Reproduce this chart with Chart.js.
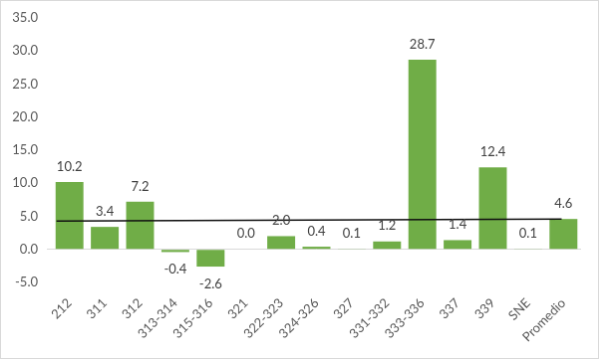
<!DOCTYPE html>
<html lang="es">
<head>
<meta charset="UTF-8">
<title>Variación por subsector</title>
<script src="https://cdn.jsdelivr.net/npm/chart.js"></script>
<style>
  body { margin: 0; background: #fff; }
  #chart { display: block; border: 1px solid #d9d9d9; }
</style>
</head>
<body>
<canvas id="chart" width="599" height="359"></canvas>
<script>
const categories = ['212', '311', '312', '313-314', '315-316', '321', '322-323', '324-326', '327', '331-332', '333-336', '337', '339', 'SNE', 'Promedio'];
const values = [10.2, 3.4, 7.2, -0.4, -2.6, 0.0, 2.0, 0.4, 0.1, 1.2, 28.7, 1.4, 12.4, 0.1, 4.6];
// trend line end points (category index, value)
const trendX = [-0.37, 13.95];
const trendY = [4.3, 4.6];

const barColor = '#70ad47';
const labelFont = { family: 'Lato', size: 13 };

// value labels over / under each bar
const valueLabels = {
  id: 'valueLabels',
  afterDatasetsDraw(chart) {
    const ctx = chart.ctx;
    const meta = chart.getDatasetMeta(1);
    ctx.save();
    ctx.font = `${labelFont.size}px ${labelFont.family}`;
    ctx.fillStyle = '#404040';
    ctx.textAlign = 'center';
    ctx.textBaseline = 'middle';
    meta.data.forEach((bar, i) => {
      const v = values[i];
      const y = v < 0 ? bar.y + 17.5 : bar.y - 15.5;
      ctx.fillText(v.toFixed(1), bar.x, y);
    });
    ctx.restore();
  }
};

const zeroOnly = ctx => ctx.tick && ctx.tick.value === 0 ? '#d9d9d9' : 'rgba(0,0,0,0)';

new Chart(document.getElementById('chart').getContext('2d'), {
  type: 'bar',
  data: {
    labels: categories,
    datasets: [
      {
        type: 'line',
        data: trendX.map((x, i) => ({ x, y: trendY[i] })),
        xAxisID: 'x2',
        borderColor: '#111',
        borderWidth: 1.5,
        pointRadius: 0,
        fill: false
      },
      {
        type: 'bar',
        data: values,
        xAxisID: 'x',
        backgroundColor: barColor,
        grouped: false,
        barPercentage: 1,
        categoryPercentage: 0.79
      }
    ]
  },
  options: {
    responsive: false,
    animation: false,
    layout: { padding: { top: 17, right: 17, left: 0, bottom: 0 } },
    plugins: {
      legend: { display: false },
      tooltip: { enabled: false }
    },
    scales: {
      x: {
        type: 'category',
        offset: true,
        grid: { display: false, drawTicks: false },
        border: { display: false },
        ticks: {
          color: '#595959',
          font: labelFont,
          minRotation: 45,
          maxRotation: 45,
          padding: 13
        },
        afterFit(scale) { scale.height = 76; }
      },
      x2: {
        type: 'linear',
        display: false,
        offset: false,
        min: -0.5,
        max: 14.5
      },
      y: {
        min: -5,
        max: 35,
        ticks: {
          stepSize: 5,
          color: '#595959',
          font: labelFont,
          padding: 9,
          callback: v => v.toFixed(1)
        },
        grid: {
          drawTicks: true,
          tickLength: 5,
          color: zeroOnly,
          tickColor: zeroOnly
        },
        border: { display: false },
        afterFit(scale) { scale.width = 51; }
      }
    }
  },
  plugins: [valueLabels]
});
</script>
</body>
</html>
